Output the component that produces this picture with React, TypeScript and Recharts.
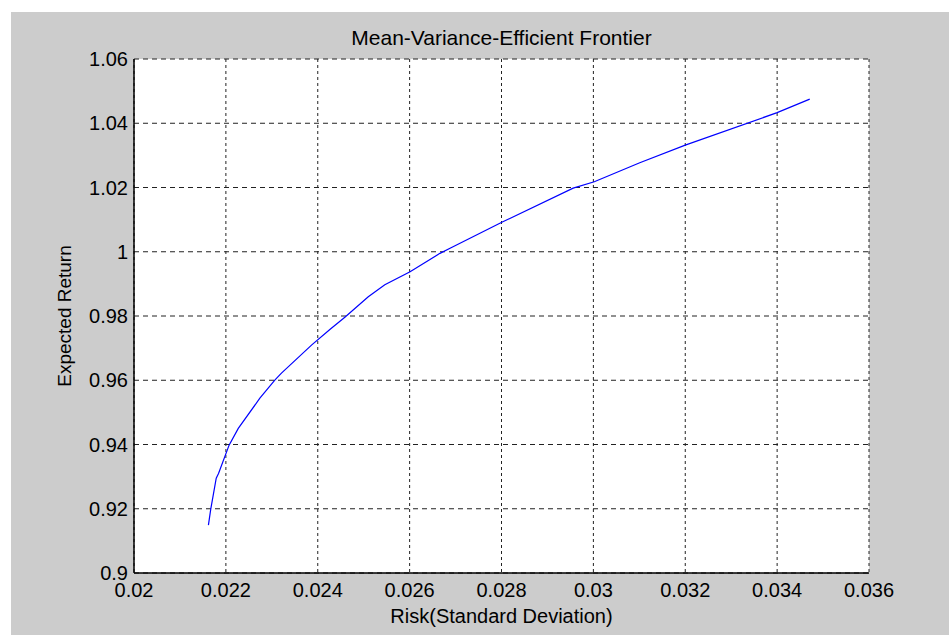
import { LineChart, Line, XAxis, YAxis, CartesianGrid } from 'recharts'

// frontier points
const risk = [
  0.02162, 0.02167, 0.02179, 0.02184, 0.02207, 0.02227, 0.02274, 0.02307,
  0.02321, 0.02387, 0.02427, 0.02459, 0.0251, 0.02546, 0.02601, 0.02666,
  0.02688, 0.02804, 0.02956, 0.03002, 0.03101, 0.032, 0.034, 0.03471,
]
const expectedReturn = [
  0.9149, 0.9198, 0.9295, 0.931, 0.9398, 0.945, 0.9544, 0.9601,
  0.9622, 0.971, 0.9759, 0.9796, 0.986, 0.9897, 0.9938, 0.9995,
  1.0011, 1.0094, 1.0198, 1.0218, 1.0277, 1.0332, 1.0433, 1.0475,
]
const xTicks = [0.02, 0.022, 0.024, 0.026, 0.028, 0.03, 0.032, 0.034, 0.036]
const yTicks = [0.9, 0.92, 0.94, 0.96, 0.98, 1, 1.02, 1.04, 1.06]

const FONT = '"Liberation Sans", Arial, sans-serif'
const tickStyle = { fill: '#000', fontSize: 20, fontFamily: FONT }
const fmt = (v: number) => String(Number(v.toFixed(4)))
const blank = () => ''
const frame = { stroke: '#000', strokeWidth: 1.5 }
const inTick = { stroke: '#000', strokeWidth: 1.2 }

export default function App() {
  const data = risk.map((r, i) => ({ risk: r, ret: expectedReturn[i] }))

  return (
    <div style={{ position: 'fixed', left: 0, top: 0, width: 949, height: 635, background: '#fff' }}>
      <div style={{ position: 'absolute', left: 11, top: 12, right: 0, bottom: 0, background: '#cccccc' }} />
      <div
        style={{
          position: 'absolute', left: 0, top: 25, width: 1003, textAlign: 'center',
          fontFamily: FONT, fontSize: 21, color: '#000', lineHeight: '26px',
        }}
      >
        Mean-Variance-Efficient Frontier
      </div>
      <div style={{ position: 'absolute', left: 0, top: 0 }}>
        <LineChart width={949} height={635} data={data} margin={{ top: 59, right: 80, left: 0, bottom: 0 }}>
          <CartesianGrid fill="#fff" vertical={false} stroke="#222" strokeDasharray="5 4" />
          <CartesianGrid horizontal={false} stroke="#222" strokeDasharray="3 3" />
          {/* inward tick marks on all four sides */}
          <XAxis
            xAxisId="bottomIn"
            dataKey="risk"
            type="number"
            domain={[0.02, 0.036]}
            ticks={xTicks}
            tickFormatter={blank}
            mirror
            tickSize={7}
            tickLine={inTick}
            axisLine={false}
            height={0}
          />
          <XAxis
            dataKey="risk"
            type="number"
            domain={[0.02, 0.036]}
            ticks={xTicks}
            tickFormatter={fmt}
            tick={tickStyle}
            tickLine={false}
            tickSize={0}
            tickMargin={10}
            axisLine={frame}
            height={62}
            allowDataOverflow
            label={{
              value: 'Risk(Standard Deviation)', position: 'insideBottom', offset: 12,
              style: { fill: '#000', fontSize: 20, fontFamily: FONT },
            }}
          />
          <XAxis
            xAxisId="top"
            orientation="top"
            dataKey="risk"
            type="number"
            domain={[0.02, 0.036]}
            ticks={xTicks}
            tickFormatter={blank}
            mirror
            tickSize={7}
            tickLine={inTick}
            height={0}
            axisLine={frame}
          />
          <YAxis
            yAxisId="leftIn"
            type="number"
            domain={[0.9, 1.06]}
            ticks={yTicks}
            tickFormatter={blank}
            mirror
            tickSize={7}
            tickLine={inTick}
            axisLine={false}
            width={0}
          />
          <YAxis
            type="number"
            domain={[0.9, 1.06]}
            ticks={yTicks}
            tickFormatter={fmt}
            tick={tickStyle}
            tickLine={false}
            tickSize={0}
            tickMargin={6}
            width={134}
            axisLine={frame}
            allowDataOverflow
            label={{
              value: 'Expected Return', angle: -90, position: 'insideLeft', offset: 64,
              style: { fill: '#000', fontSize: 19, fontFamily: FONT, textAnchor: 'middle' },
            }}
          />
          <YAxis
            yAxisId="right"
            orientation="right"
            type="number"
            domain={[0.9, 1.06]}
            ticks={yTicks}
            tickFormatter={blank}
            mirror
            tickSize={7}
            tickLine={inTick}
            width={0}
            axisLine={frame}
          />
          <Line
            type="linear"
            dataKey="ret"
            stroke="#0000ff"
            strokeWidth={1.2}
            dot={false}
            isAnimationActive={false}
          />
        </LineChart>
      </div>
    </div>
  )
}
